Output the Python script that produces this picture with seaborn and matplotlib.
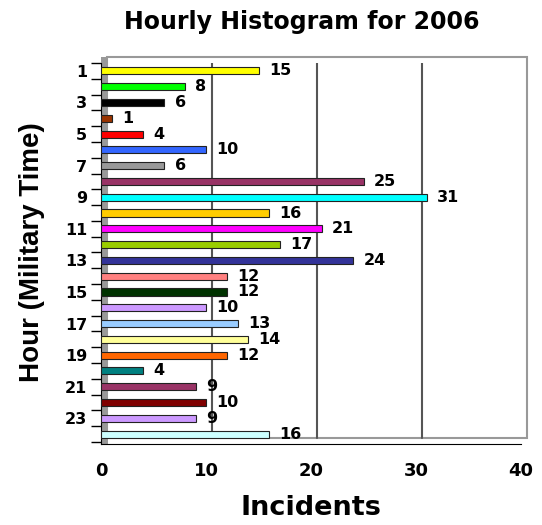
import matplotlib
matplotlib.use("Agg")
import matplotlib.pyplot as plt
import matplotlib.transforms as mtransforms
import seaborn as sns
import pandas as pd
from matplotlib.patches import Rectangle

# Données
heures = [str(h) for h in range(1, 25)]
incidents = [15, 8, 6, 1, 4, 10, 6, 25, 31, 16, 21, 17,
             24, 12, 12, 10, 13, 14, 12, 4, 9, 10, 9, 16]
couleurs = ["#FFFF00", "#00FF00", "#000000", "#993300", "#FF0000", "#3366FF",
            "#999999", "#993366", "#00FFFF", "#FFCC00", "#FF00FF", "#99CC00",
            "#333399", "#FF8080", "#003300", "#CC99FF", "#99CCFF", "#FFFF99",
            "#FF6600", "#008080", "#993366", "#800000", "#CC99FF", "#CCFFFF"]
graduations = [0, 10, 20, 30, 40]

sns.set_style("white")
plt.rcParams['font.family'] = ['DejaVu Sans']
plt.rcParams['text.color'] = 'black'
plt.rcParams['xtick.color'] = 'black'
plt.rcParams['ytick.color'] = 'black'
plt.rcParams['axes.labelcolor'] = 'black'

df = pd.DataFrame({"Heure": heures, "Incidents": incidents})

W, H = 542, 525
fig = plt.figure(figsize=(W / 100, H / 100), dpi=100)
# axes "avant" : x de 101 à 521 px, y de 63 à 444 px
ax = fig.add_axes([101 / W, 1 - 444 / H, 420 / W, 381 / H])

sns.barplot(data=df, x="Incidents", y="Heure", hue="Heure", palette=couleurs,
            legend=False, orient="h", width=0.45, edgecolor="#222222",
            linewidth=0.8, saturation=1, ax=ax, zorder=3)

# Étiquettes de valeurs
for i, v in enumerate(incidents):
    ax.text(v + 1.0, i, str(v), va="center", ha="left",
            fontsize=11.5, fontweight="bold", zorder=4)

ax.set_xlim(graduations[0], graduations[-1])
ax.set_ylim(23.63, -0.31)
ax.set_xticks(graduations)
ax.set_xticklabels([str(g) for g in graduations], fontsize=13, fontweight="bold")
ax.set_yticks(range(len(heures)))
ax.set_yticklabels([h if int(h) % 2 == 1 else "" for h in heures],
                   fontsize=11.5, fontweight="bold")
ax.set_yticks([k - 0.5 for k in range(len(heures) + 1)], minor=True)
ax.tick_params(axis="x", length=5, width=1, color="black", pad=8)
ax.tick_params(axis="y", which="major", length=0, pad=10)
ax.tick_params(axis="y", which="minor", length=7, width=1, color="black", left=True)

for side in ["top", "right"]:
    ax.spines[side].set_visible(False)
ax.spines["left"].set_color("black")
ax.spines["bottom"].set_color("black")

# Paroi du fond décalée (effet 3D)
decal = mtransforms.ScaledTranslation(0.06, 0.06, fig.dpi_scale_trans)
for g in graduations[1:-1]:
    ax.plot([g, g], [0, 1], color="#555555", linewidth=1.5, zorder=1,
            transform=ax.get_xaxis_transform() + decal)
ax.add_patch(Rectangle((0, 0), 1, 1, transform=ax.transAxes + decal,
                       facecolor="none", edgecolor="#999999", linewidth=1.5,
                       zorder=0, clip_on=False))
# Paroi gauche grise
ax.add_patch(Rectangle((0, 0), 7 / 420, 387 / 381, transform=ax.transAxes,
                       facecolor="#999999", edgecolor="none", zorder=1,
                       clip_on=False))

ax.set_xlabel("Incidents", fontsize=19.5, fontweight="bold")
ax.xaxis.set_label_coords(0.5, -0.135)
ax.set_ylabel("Hour (Military Time)", fontsize=20, fontweight="bold",
              family=["Liberation Sans", "DejaVu Sans"])
ax.yaxis.set_label_coords(-0.133, 0.504)
fig.text(0.556, 1 - 22 / H, "Hourly Histogram for 2006", fontsize=17,
         fontweight="bold", ha="center", va="center")

fig.savefig("out.png", dpi=100)
